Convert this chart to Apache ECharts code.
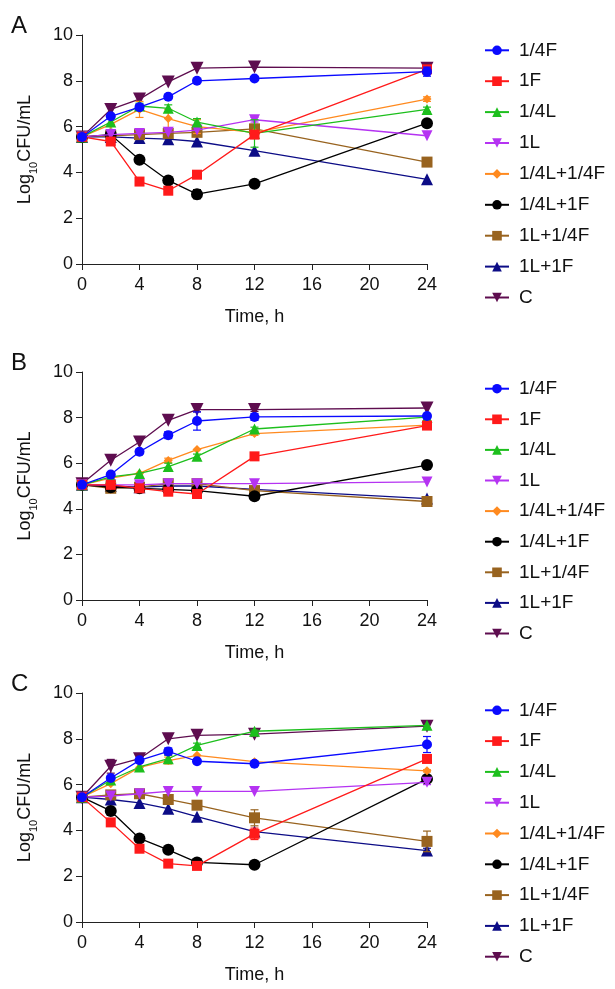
<!DOCTYPE html>
<html>
<head>
<meta charset="utf-8">
<script src="https://cdn.jsdelivr.net/npm/echarts@6/dist/echarts.min.js"></script>
<style>
html,body{margin:0;padding:0;background:#fff;}
#chart{width:615px;height:989px;}
</style>
</head>
<body>
<div id="chart"></div>
<script>
// ---- data ----
const times = [0, 2, 4, 6, 8, 12, 24];
const seriesNames = ['1/4F', '1F', '1/4L', '1L', '1/4L+1/4F', '1/4L+1F', '1L+1/4F', '1L+1F', 'C'];
const xTicks = [0, 4, 8, 12, 16, 20, 24];
const yTicks = [0, 2, 4, 6, 8, 10];
const panelLabels = ['A', 'B', 'C'];

// Panel A values (log10 CFU/mL), one row per series in seriesNames order
const panelA = [
  [5.55, 6.45, 6.85, 7.30, 8.00, 8.10, 8.40],
  [5.55, 5.35, 3.60, 3.20, 3.90, 5.65, 8.50],
  [5.55, 6.20, 6.90, 6.80, 6.20, 5.70, 6.75],
  [5.55, 5.65, 5.70, 5.75, 5.85, 6.30, 5.60],
  [5.55, 6.10, 6.75, 6.35, 6.00, 5.75, 7.20],
  [5.55, 5.65, 4.55, 3.65, 3.05, 3.50, 6.15],
  [5.55, 5.60, 5.65, 5.70, 5.75, 5.90, 4.45],
  [5.55, 5.55, 5.50, 5.45, 5.35, 4.95, 3.70],
  [5.55, 6.75, 7.20, 7.95, 8.55, 8.60, 8.55]
];
const errorA = [
  [0, 0, 0.10, 0.10, 0, 0.08, 0.20],
  [0, 0, 0, 0, 0, 0.10, 0],
  [0, 0, 0.12, 0.15, 0.15, 0.60, 0.10],
  [0, 0, 0, 0, 0, 0.10, 0],
  [0, 0, 0.35, 0.40, 0.30, 0, 0.10],
  [0, 0, 0, 0, 0.20, 0, 0],
  [0, 0, 0, 0, 0, 0.20, 0],
  [0, 0, 0, 0, 0, 0, 0],
  [0, 0, 0, 0, 0, 0, 0.08]
];

// Panel B values
const panelB = [
  [5.05, 5.50, 6.50, 7.23, 7.85, 8.03, 8.07],
  [5.05, 5.05, 4.90, 4.75, 4.65, 6.30, 7.65],
  [5.05, 5.40, 5.55, 5.85, 6.30, 7.50, 8.02],
  [5.05, 5.05, 5.05, 5.10, 5.10, 5.10, 5.18],
  [5.05, 5.35, 5.55, 6.12, 6.60, 7.30, 7.67],
  [5.05, 4.95, 4.90, 4.85, 4.80, 4.55, 5.92],
  [5.05, 4.90, 4.95, 5.10, 5.10, 4.80, 4.32],
  [5.05, 5.00, 4.95, 5.00, 5.00, 4.85, 4.45],
  [5.10, 6.13, 6.93, 7.88, 8.35, 8.35, 8.42]
];
const errorB = [
  [0, 0.05, 0.10, 0.15, 0.40, 0.15, 0.10],
  [0, 0, 0, 0, 0, 0, 0],
  [0, 0, 0, 0.15, 0.10, 0.08, 0],
  [0, 0, 0, 0, 0, 0, 0],
  [0, 0, 0, 0.10, 0, 0.08, 0],
  [0, 0, 0, 0, 0, 0, 0],
  [0, 0, 0, 0, 0, 0, 0],
  [0, 0, 0, 0, 0, 0, 0],
  [0, 0, 0, 0, 0.10, 0.08, 0]
];

// Panel C values
const panelC = [
  [5.45, 6.29, 7.06, 7.45, 7.02, 6.91, 7.75],
  [5.45, 4.35, 3.20, 2.55, 2.45, 3.85, 7.12],
  [5.45, 6.20, 6.77, 7.13, 7.71, 8.33, 8.59],
  [5.45, 5.50, 5.60, 5.70, 5.70, 5.70, 6.10],
  [5.45, 6.04, 6.75, 7.05, 7.28, 7.00, 6.60],
  [5.45, 4.85, 3.65, 3.15, 2.60, 2.50, 6.25],
  [5.45, 5.55, 5.60, 5.35, 5.10, 4.55, 3.52],
  [5.45, 5.35, 5.20, 4.95, 4.60, 3.95, 3.12],
  [5.45, 6.80, 7.13, 8.00, 8.15, 8.20, 8.55]
];
const errorC = [
  [0, 0, 0, 0.15, 0, 0, 0.35],
  [0, 0, 0, 0, 0, 0.25, 0],
  [0, 0, 0, 0.15, 0.10, 0.05, 0],
  [0, 0, 0, 0, 0, 0, 0.10],
  [0, 0, 0, 0.15, 0, 0, 0.05],
  [0, 0, 0, 0, 0, 0, 0.10],
  [0, 0, 0, 0, 0, 0.35, 0.45],
  [0, 0, 0, 0, 0, 0, 0.10],
  [0, 0.30, 0, 0, 0, 0.10, 0.08]
];

// ---- styles ----
const invTri = 'path://M0,0 L10,0 L5,9 Z';
const colors = ['#0a0aff', '#ff1a1a', '#1dbf1d', '#b533f2', '#ff8a1f', '#000000', '#98631f', '#0c0c86', '#5e0d4f'];
const symbols = ['circle', 'rect', 'triangle', invTri, 'diamond', 'circle', 'rect', 'triangle', invTri];
const symSizes = [10, 10, 11, 11, 9, 12, 11, 12, 13];

const FONT = 'Liberation Sans';
const panels = [panelA, panelB, panelC];
const errors = [errorA, errorB, errorC];
const gridTops = [35, 372, 693];
const gridHeights = [229, 228, 229];
const legendTops = [35.3, 373.7, 695.3];
const legendGaps = [10.9, 10.6, 10.8];

const grids = [], xAxes = [], yAxes = [], series = [], legends = [], titles = [];

panels.forEach((panel, p) => {
  grids.push({left: 82, top: gridTops[p], width: 345, height: gridHeights[p], containLabel: false});
  xAxes.push({
    type: 'value', gridIndex: p, min: 0, max: 24, interval: 4,
    name: 'Time, h', nameLocation: 'middle', nameGap: 44,
    nameTextStyle: {fontFamily: FONT, fontSize: 18, color: '#111'},
    axisLine: {show: true, onZero: false, lineStyle: {color: '#222', width: 1}},
    axisTick: {show: true, length: 6, lineStyle: {color: '#222'}},
    axisLabel: {fontFamily: FONT, fontSize: 18, color: '#111', margin: 12,
      formatter: v => xTicks.includes(v) ? String(v) : ''},
    splitLine: {show: false}
  });
  yAxes.push({
    type: 'value', gridIndex: p, min: 0, max: 10, interval: 2,
    name: '{a|Log}{s|10}{a|CFU/mL}', nameLocation: 'middle', nameGap: 48,
    nameTextStyle: {fontFamily: FONT, fontSize: 18, color: '#111',
      rich: {a: {fontFamily: FONT, fontSize: 18, color: '#111'}, s: {fontFamily: FONT, fontSize: 11, color: '#111', verticalAlign: 'bottom', padding: [0, 0, -5, 0]}}},
    axisLine: {show: true, lineStyle: {color: '#222', width: 1}},
    axisTick: {show: true, length: 6, lineStyle: {color: '#222'}},
    axisLabel: {fontFamily: FONT, fontSize: 18, color: '#111', margin: 9,
      formatter: v => yTicks.includes(v) ? String(v) : ''},
    splitLine: {show: false}
  });
  titles.push({text: panelLabels[p], left: 6, top: gridTops[p] - 26,
    textStyle: {fontFamily: FONT, fontSize: 24, fontWeight: 'normal', color: '#111'}});
  legends.push({
    orient: 'vertical', left: 479, top: legendTops[p], itemGap: legendGaps[p],
    itemWidth: 24, itemHeight: 12,
    textStyle: {fontFamily: FONT, fontSize: 19, color: '#111', lineHeight: 20, padding: [0, 0, 0, 5]},
    data: seriesNames.map((n, i) => ({name: n, itemStyle: {color: colors[i]}})),
    selectedMode: false
  });
  panel.forEach((vals, i) => {
    const errs = errors[p][i];
    series.push({
      name: seriesNames[i], type: 'line', xAxisIndex: p, yAxisIndex: p,
      data: times.map((t, k) => [t, vals[k]]),
      symbol: symbols[i], symbolSize: symSizes[i], showAllSymbol: true,
      lineStyle: {color: colors[i], width: 1.3},
      itemStyle: {color: colors[i], borderWidth: 0},
      z: 20 - i, zlevel: 0, animation: false, emphasis: {disabled: true}
    });
    const errData = [];
    times.forEach((t, k) => { if (errs[k] > 0) errData.push([t, vals[k] - errs[k], vals[k] + errs[k]]); });
    if (errData.length) {
      series.push({
        type: 'custom', xAxisIndex: p, yAxisIndex: p, data: errData, z: 20 - i, animation: false,
        silent: true,
        renderItem: (params, api) => {
          const x = api.value(0);
          const lo = api.coord([x, api.value(1)]);
          const hi = api.coord([x, api.value(2)]);
          const w = 4;
          const st = {stroke: colors[i], lineWidth: 1.2};
          return {type: 'group', children: [
            {type: 'line', shape: {x1: lo[0], y1: lo[1], x2: hi[0], y2: hi[1]}, style: st},
            {type: 'line', shape: {x1: lo[0] - w, y1: lo[1], x2: lo[0] + w, y2: lo[1]}, style: st},
            {type: 'line', shape: {x1: hi[0] - w, y1: hi[1], x2: hi[0] + w, y2: hi[1]}, style: st}
          ]};
        },
        encode: {x: 0, y: [1, 2]}
      });
    }
  });
});

const chart = echarts.init(document.getElementById('chart'), null, {renderer: 'canvas'});
chart.setOption({
  animation: false,
  backgroundColor: '#ffffff',
  title: titles,
  grid: grids,
  xAxis: xAxes,
  yAxis: yAxes,
  legend: legends,
  series: series
});
</script>
</body>
</html>
